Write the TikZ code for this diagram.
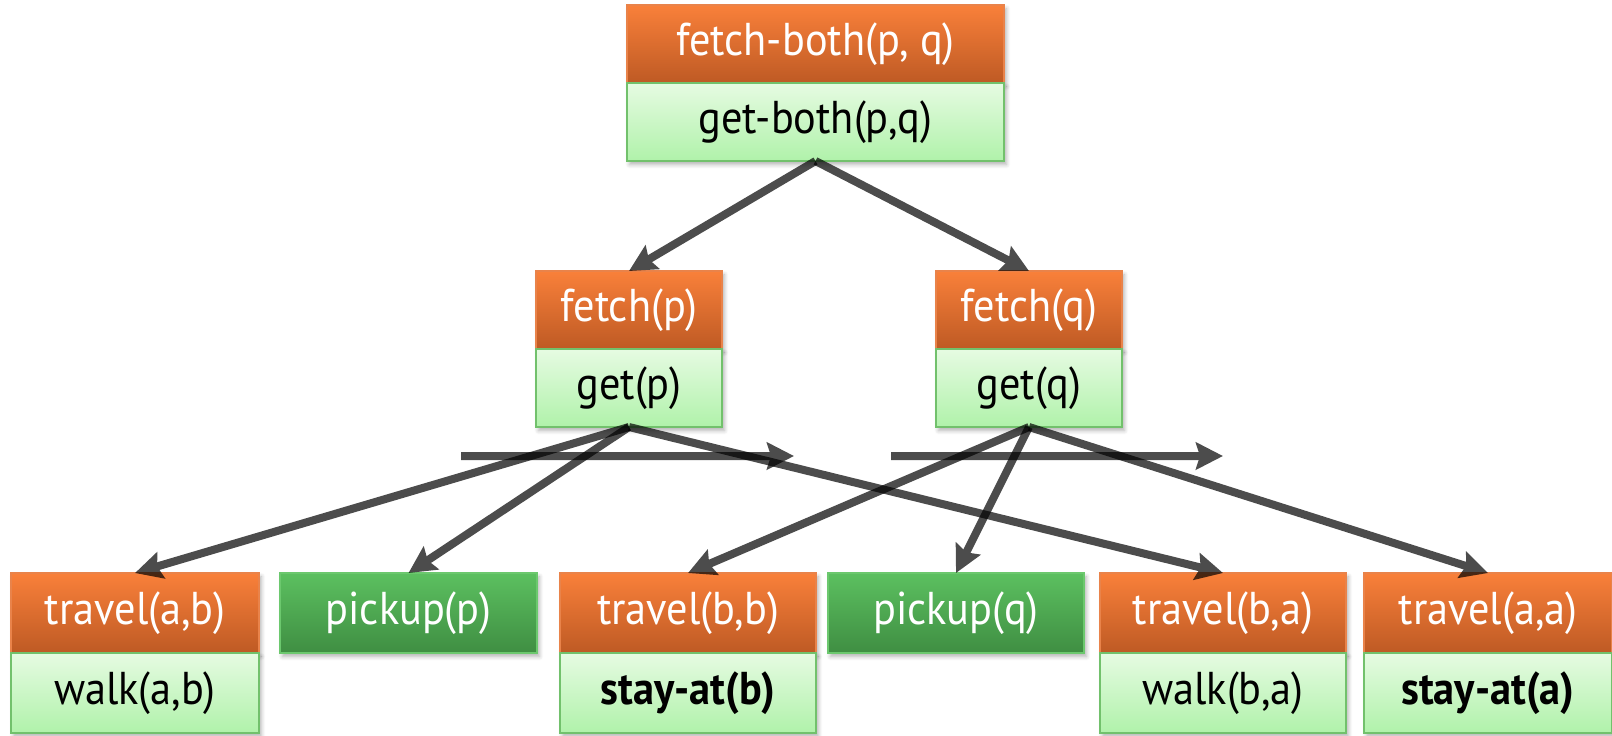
\documentclass[tikz,border=0pt]{standalone}
\usepackage{fontspec}
\setmainfont{PT Sans}[FakeStretch=0.92]
\usetikzlibrary{arrows.meta,shadows.blur}

\definecolor{orTop}{HTML}{F9803A}
\definecolor{orBot}{HTML}{BE5A24}
\definecolor{orEdge}{HTML}{E9834A}
\definecolor{gnTop}{HTML}{E6FBE2}
\definecolor{gnBot}{HTML}{B0F2AA}
\definecolor{gnEdge}{HTML}{72C16C}
\definecolor{pkTop}{HTML}{5CC060}
\definecolor{pkBot}{HTML}{3F8E42}
\definecolor{pkEdge}{HTML}{6CC86E}

\tikzset{
  box/.style={rectangle, inner sep=0pt, outer sep=0pt, line width=0.6pt,
    font=\fontsize{23}{26}\selectfont,
    blur shadow={shadow xshift=1.2pt, shadow yshift=-1.8pt,
      shadow blur steps=6, shadow opacity=30}},
  act/.style={box, text=white, top color=orTop, bottom color=orBot, draw=orEdge},
  meth/.style={box, text=black, top color=gnTop, bottom color=gnBot, draw=gnEdge},
  prim/.style={box, text=white, top color=pkTop, bottom color=pkBot, draw=pkEdge},
  flow/.style={line width=4pt, draw=black, fill=black,
    -{Stealth[length=13.5pt, width=13.5pt, inset=2pt]}},
}
% each connector is its own translucent group, so crossings darken
\newcommand{\flowarrow}[2]{%
  \begin{scope}[transparency group, opacity=0.7]
    \draw[flow] (#1) -- (#2);
  \end{scope}}

\begin{document}
\begin{tikzpicture}[x=0.5pt, y=-0.5pt]
  \useasboundingbox (0,0) rectangle (1612,735);

  % top level task and its method
  \node[act,  minimum width=188.5pt, minimum height=39pt] (fb) at (815.5,44) {fetch-both(p, q)};
  \node[meth, minimum width=188.5pt, minimum height=39pt] (gb) at (815.5,122) {get-both(p,q)};

  % second level
  \node[act,  minimum width=93pt, minimum height=39pt] (fp) at (629,310) {fetch(p)};
  \node[meth, minimum width=93pt, minimum height=39pt] (gp) at (629,388) {get(p)};
  \node[act,  minimum width=93pt, minimum height=39pt] (fq) at (1029,310) {fetch(q)};
  \node[meth, minimum width=93pt, minimum height=39pt] (gq) at (1029,388) {get(q)};

  % bottom level
  \node[act,  minimum width=124pt, minimum height=40pt] (tab) at (135,613) {travel(a,b)};
  \node[meth, minimum width=124pt, minimum height=40pt] (wab) at (135,693) {walk(a,b)};
  \node[prim, minimum width=128.5pt, minimum height=40pt] (pp) at (408.5,613) {pickup(p)};
  \node[act,  minimum width=128pt, minimum height=40pt] (tbb) at (688,613) {travel(b,b)};
  \node[meth, minimum width=128pt, minimum height=40pt] (sb) at (688,693) {\bfseries stay-at(b)};
  \node[prim, minimum width=128pt, minimum height=40pt] (pq) at (956,613) {pickup(q)};
  \node[act,  minimum width=123pt, minimum height=40pt] (tba) at (1223,613) {travel(b,a)};
  \node[meth, minimum width=123pt, minimum height=40pt] (wba) at (1223,693) {walk(b,a)};
  \node[act,  minimum width=124pt, minimum height=40pt] (taa) at (1488,613) {travel(a,a)};
  \node[meth, minimum width=124pt, minimum height=40pt] (sa) at (1488,693) {\bfseries stay-at(a)};

  % ordering arrows
  \coordinate (o1s) at (461,456);
  \coordinate (o1e) at (794,456);
  \coordinate (o2s) at (891,456);
  \coordinate (o2e) at (1223,456);
  \flowarrow{o1s}{o1e}
  \flowarrow{o2s}{o2e}

  % decomposition arrows
  \flowarrow{gb.south}{fp.north}
  \flowarrow{gb.south}{fq.north}
  \flowarrow{gp.south}{tab.north}
  \flowarrow{gp.south}{pp.north}
  \flowarrow{gp.south}{tba.north}
  \flowarrow{gq.south}{tbb.north}
  \flowarrow{gq.south}{pq.north}
  \flowarrow{gq.south}{taa.north}
\end{tikzpicture}
\end{document}
